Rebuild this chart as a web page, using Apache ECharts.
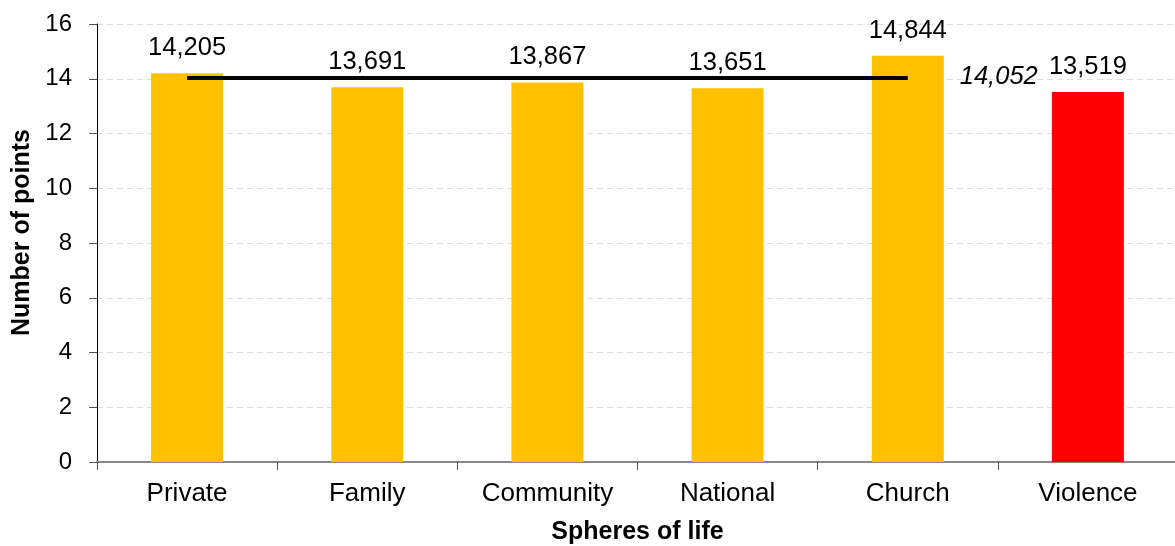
<!DOCTYPE html>
<html>
<head>
<meta charset="utf-8">
<script src="https://cdn.jsdelivr.net/npm/echarts@6/dist/echarts.min.js"></script>
<style>html,body{margin:0;padding:0;background:#fff}#c{width:1175px;height:546px}</style>
</head>
<body>
<div id="c"></div>
<script>
const categories = ['Private', 'Family', 'Community', 'National', 'Church', 'Violence'];
const values = [14.205, 13.691, 13.867, 13.651, 14.844, 13.519];
const barColors = ['#FFC000', '#FFC000', '#FFC000', '#FFC000', '#FFC000', '#FF0000'];
const average = 14.052;
const averageFrom = 'Private';
const averageTo = 'Church';
const yTicks = { min: 0, max: 16, interval: 2 };

const fmt = v => v.toFixed(3).replace('.', ',');
const font = '"Liberation Sans", Arial, sans-serif';

const chart = echarts.init(document.getElementById('c'), null, { renderer: 'canvas' });
chart.setOption({
  animation: false,
  grid: { left: 97, top: 24, width: 1081, height: 438, containLabel: false, outerBoundsMode: 'none' },
  xAxis: {
    type: 'category',
    data: categories,
    name: 'Spheres of life',
    nameLocation: 'middle',
    nameGap: 58,
    nameTextStyle: { fontFamily: font, fontSize: 25, fontWeight: 'bold', color: '#000' },
    axisLine: { lineStyle: { color: '#888', width: 2 } },
    axisTick: { show: true, length: 8, lineStyle: { color: '#555' } },
    axisLabel: { fontFamily: font, fontSize: 26, color: '#000', margin: 19 }
  },
  yAxis: {
    type: 'value',
    min: yTicks.min, max: yTicks.max, interval: yTicks.interval,
    name: 'Number of points',
    nameLocation: 'middle',
    nameGap: 58,
    nameTextStyle: { fontFamily: font, fontSize: 25, fontWeight: 'bold', color: '#000', padding: [0, 0, 0, 21] },
    axisLine: { show: true, lineStyle: { color: '#000', width: 1 } },
    axisTick: { show: true, length: 8, lineStyle: { color: '#555' } },
    axisLabel: { fontFamily: font, fontSize: 24, color: '#000', margin: 25 },
    splitLine: { show: true, lineStyle: { color: '#ddd', type: [6, 4], width: 1 } }
  },
  series: [{
    type: 'bar',
    barWidth: 72,
    data: values.map((v, i) => ({ value: v, itemStyle: { color: barColors[i] } })),
    label: {
      show: true, position: 'top', distance: 12,
      fontFamily: font, fontSize: 25.5, color: '#000',
      formatter: p => fmt(p.value)
    },
    markLine: {
      silent: true,
      symbol: 'none',
      lineStyle: { color: '#000', width: 4, type: 'solid' },
      label: {
        show: true, position: 'end', distance: [52, 9],
        fontFamily: font, fontSize: 25.5, fontStyle: 'italic', color: '#000',
        formatter: () => fmt(average)
      },
      data: [[{ coord: [averageFrom, average] }, { coord: [averageTo, average] }]]
    }
  }]
});
</script>
</body>
</html>
